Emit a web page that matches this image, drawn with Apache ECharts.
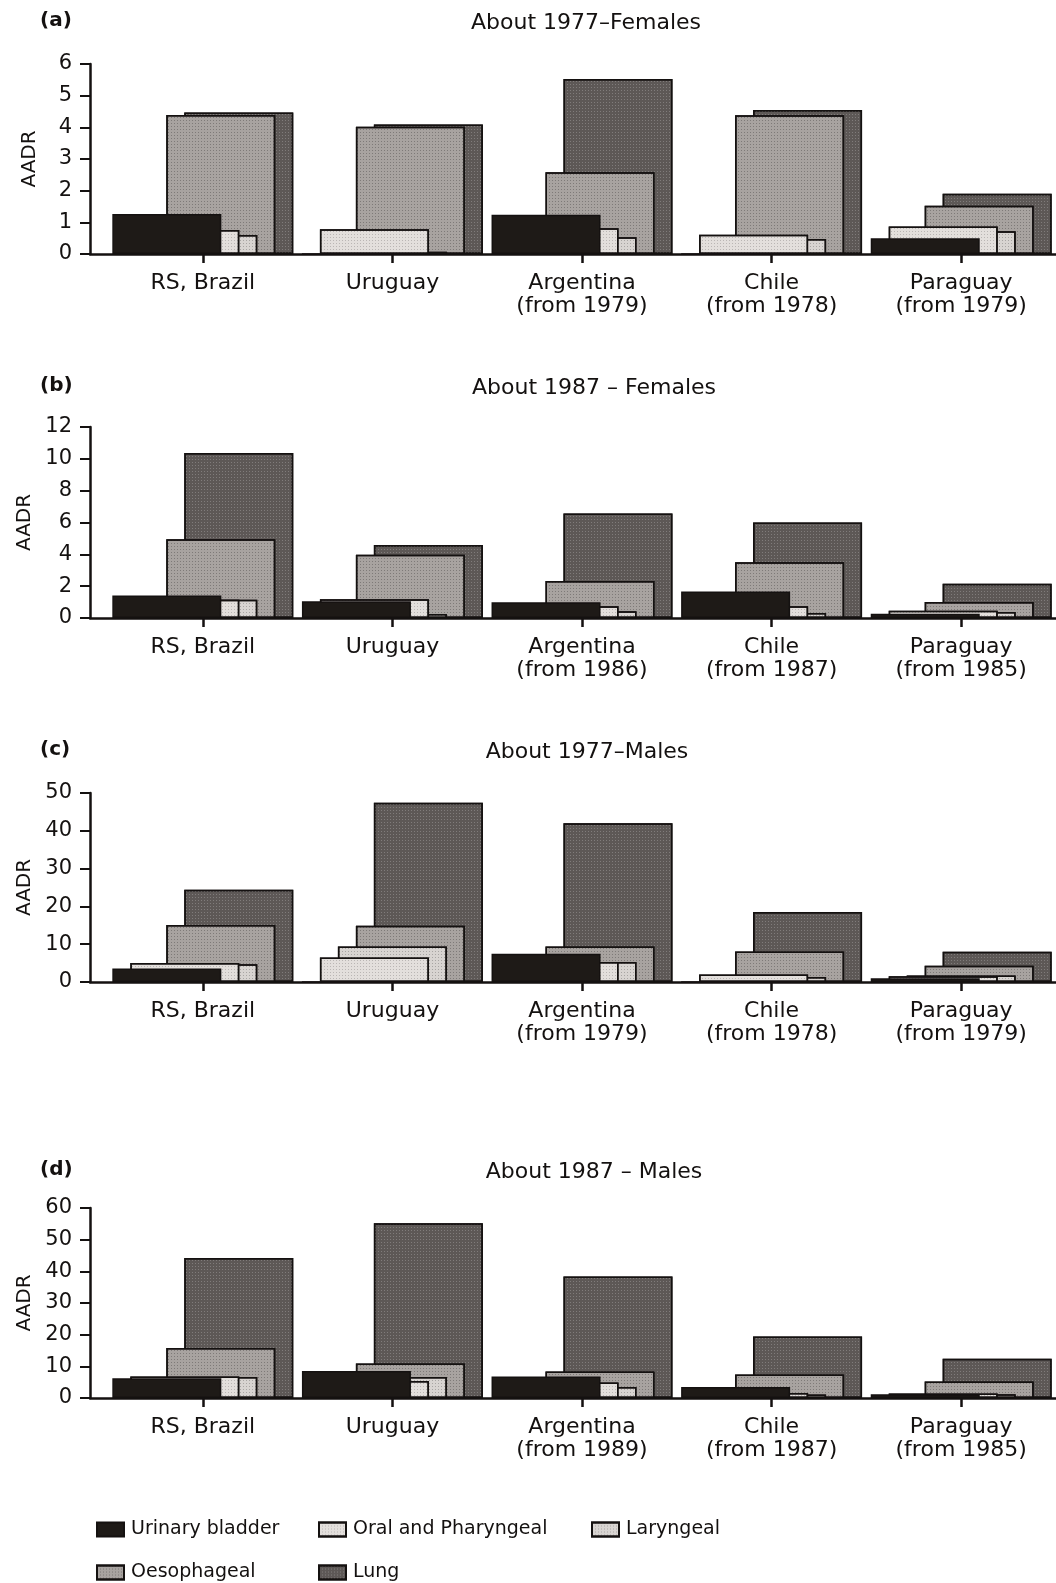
<!DOCTYPE html>
<html>
<head>
<meta charset="utf-8">
<script src="https://cdn.jsdelivr.net/npm/echarts@6/dist/echarts.min.js"></script>
<style>
  html, body { margin: 0; padding: 0; background: #ffffff; }
  #chart { width: 1056px; height: 1583px; }
</style>
</head>
<body>
<div id="chart"></div>
<script>
// ---------- DATA ----------
const seriesNames = ['Urinary bladder', 'Oral and Pharyngeal', 'Laryngeal', 'Oesophageal', 'Lung'];

const catsA = ['RS, Brazil', 'Uruguay', 'Argentina\n(from 1979)', 'Chile\n(from 1978)', 'Paraguay\n(from 1979)'];
const catsB = ['RS, Brazil', 'Uruguay', 'Argentina\n(from 1986)', 'Chile\n(from 1987)', 'Paraguay\n(from 1985)'];
const catsC = ['RS, Brazil', 'Uruguay', 'Argentina\n(from 1979)', 'Chile\n(from 1978)', 'Paraguay\n(from 1979)'];
const catsD = ['RS, Brazil', 'Uruguay', 'Argentina\n(from 1989)', 'Chile\n(from 1987)', 'Paraguay\n(from 1985)'];

// (a) About 1977 - Females
const a_bladder   = [1.26, 0, 1.24, 0, 0.5];
const a_oral      = [0.76, 0.78, 0.81, 0.61, 0.87];
const a_laryngeal = [0.6, 0.07, 0.53, 0.47, 0.72];
const a_oesoph    = [4.39, 4.02, 2.58, 4.38, 1.52];
const a_lung      = [4.47, 4.09, 5.53, 4.55, 1.9];

// (b) About 1987 - Females
const b_bladder   = [1.41, 1.05, 0.99, 1.66, 0.27];
const b_oral      = [1.14, 1.18, 0.74, 0.74, 0.46];
const b_laryngeal = [1.14, 0.25, 0.42, 0.32, 0.38];
const b_oesoph    = [4.95, 3.97, 2.33, 3.51, 1.0];
const b_lung      = [10.36, 4.58, 6.57, 6.0, 2.15];

// (c) About 1977 - Males
const c_bladder   = [3.6, 0, 7.5, 0, 1.0];
const c_oral      = [5.0, 6.5, 5.3, 2.0, 1.5];
const c_laryngeal = [4.7, 9.4, 5.3, 1.3, 1.7];
const c_oesoph    = [15.1, 14.9, 9.4, 8.1, 4.3];
const c_lung      = [24.4, 47.4, 42.0, 18.5, 8.0];

// (d) About 1987 - Males
const d_bladder   = [6.2, 8.5, 6.8, 3.5, 1.2];
const d_oral      = [6.8, 5.4, 4.9, 1.6, 1.4];
const d_laryngeal = [6.6, 6.6, 3.5, 1.1, 1.2];
const d_oesoph    = [15.8, 10.9, 8.4, 7.4, 5.2];
const d_lung      = [44.2, 55.2, 38.4, 19.4, 12.4];

const panelTitles = ['About 1977\u2013Females', 'About 1987 \u2013 Females', 'About 1977\u2013Males', 'About 1987 \u2013 Males'];
const panelLetters = ['(a)', '(b)', '(c)', '(d)'];
const yMax = [6, 12, 50, 60];
const yInterval = [1, 2, 10, 10];
const yName = 'AADR';

// ---------- STYLE ----------
const FONT = 'DejaVu Sans';
const INK = '#141110';
const styles = [
  { color: '#1e1a17', decal: null },
  { color: '#e3dfdc', decal: 'rgba(0,0,0,0.18)' },
  { color: '#d8d4d1', decal: 'rgba(0,0,0,0.22)' },
  { color: '#a8a3a0', decal: 'rgba(0,0,0,0.25)' },
  { color: '#5d5856', decal: 'rgba(255,255,255,0.22)' }
];

const panels = [
  { cats: catsA, data: [a_bladder, a_oral, a_laryngeal, a_oesoph, a_lung], top: 64, height: 190, titleY: 7, titleX: 581 },
  { cats: catsB, data: [b_bladder, b_oral, b_laryngeal, b_oesoph, b_lung], top: 427, height: 191, titleY: 372, titleX: 589 },
  { cats: catsC, data: [c_bladder, c_oral, c_laryngeal, c_oesoph, c_lung], top: 793, height: 189, titleY: 736, titleX: 582 },
  { cats: catsD, data: [d_bladder, d_oral, d_laryngeal, d_oesoph, d_lung], top: 1208, height: 190, titleY: 1156, titleX: 589 }
];

const option = {
  backgroundColor: '#ffffff',
  animation: false,
  textStyle: { fontFamily: FONT, color: INK },
  title: [],
  grid: [],
  xAxis: [],
  yAxis: [],
  series: [],
  legend: []
};

panels.forEach((p, i) => {
  option.title.push({
    text: panelTitles[i], left: p.titleX, top: p.titleY, textAlign: 'center',
    textStyle: { fontFamily: FONT, fontSize: 22, fontWeight: 'normal', color: INK }
  });
  option.title.push({
    text: panelLetters[i], left: 35, top: p.titleY - 1,
    textStyle: { fontFamily: FONT, fontSize: 20, fontWeight: 'bold', color: INK }
  });

  const gA = option.grid.length;
  option.grid.push({ left: 90, right: 0, top: p.top, height: p.height, containLabel: false });
  const gB = option.grid.length;
  option.grid.push({ left: 108, width: 950, top: p.top, height: p.height, containLabel: false });

  option.xAxis.push({
    type: 'value', gridIndex: gA, min: 0, max: 1,
    axisLine: { show: true, lineStyle: { color: INK, width: 2.5 } },
    axisTick: { show: false }, axisLabel: { show: false }, splitLine: { show: false }
  });
  option.yAxis.push({
    type: 'value', gridIndex: gA, min: 0, max: yMax[i], interval: yInterval[i],
    name: yName, nameLocation: 'middle', nameGap: 50, nameRotate: 90,
    nameTextStyle: { fontFamily: FONT, fontSize: 20, color: INK },
    axisLine: { show: true, lineStyle: { color: INK, width: 2.5 } },
    axisTick: { show: true, inside: false, length: 10, lineStyle: { color: INK, width: 2 } },
    axisLabel: { fontFamily: FONT, fontSize: 21, color: INK, margin: 18 },
    splitLine: { show: false }
  });

  const xB = option.xAxis.length;
  option.xAxis.push({
    type: 'category', gridIndex: gB, data: p.cats,
    axisLine: { show: false },
    axisTick: { show: true, alignWithLabel: true, length: 9, lineStyle: { color: INK, width: 2.5 } },
    axisLabel: { fontFamily: FONT, fontSize: 22, color: INK, margin: 18, lineHeight: 23, interval: 0 },
    splitLine: { show: false }
  });
  const yB = option.yAxis.length;
  option.yAxis.push({
    type: 'value', gridIndex: gB, min: 0, max: yMax[i], interval: yInterval[i], show: false
  });

  p.data.forEach((vals, s) => {
    const st = styles[s];
    const itemStyle = { color: st.color, borderColor: INK, borderWidth: 1.5 };
    if (st.decal) {
      itemStyle.decal = { symbol: 'rect', symbolSize: 1, dashArrayX: [1, 2], dashArrayY: [1, 2], color: st.decal };
    }
    option.series.push({
      type: 'bar', name: seriesNames[s], xAxisIndex: xB, yAxisIndex: yB,
      data: vals, barWidth: 109, barGap: '-83.5%',
      z: 10 - s, itemStyle: itemStyle, silent: true
    });
  });
});

const legendPos = [
  { left: 96, top: 1520 }, { left: 318, top: 1520 }, { left: 591, top: 1520 },
  { left: 96, top: 1563 }, { left: 318, top: 1563 }
];
seriesNames.forEach((n, k) => {
  option.legend.push({
    data: [n], left: legendPos[k].left, top: legendPos[k].top, padding: 0,
    icon: 'rect', itemWidth: 27, itemHeight: 14, selectedMode: false,
    textStyle: { fontFamily: FONT, fontSize: 19, color: INK, padding: [0, 0, 0, 2] }
  });
});

const chart = echarts.init(document.getElementById('chart'), null, { renderer: 'canvas' });
chart.setOption(option);
</script>
</body>
</html>
